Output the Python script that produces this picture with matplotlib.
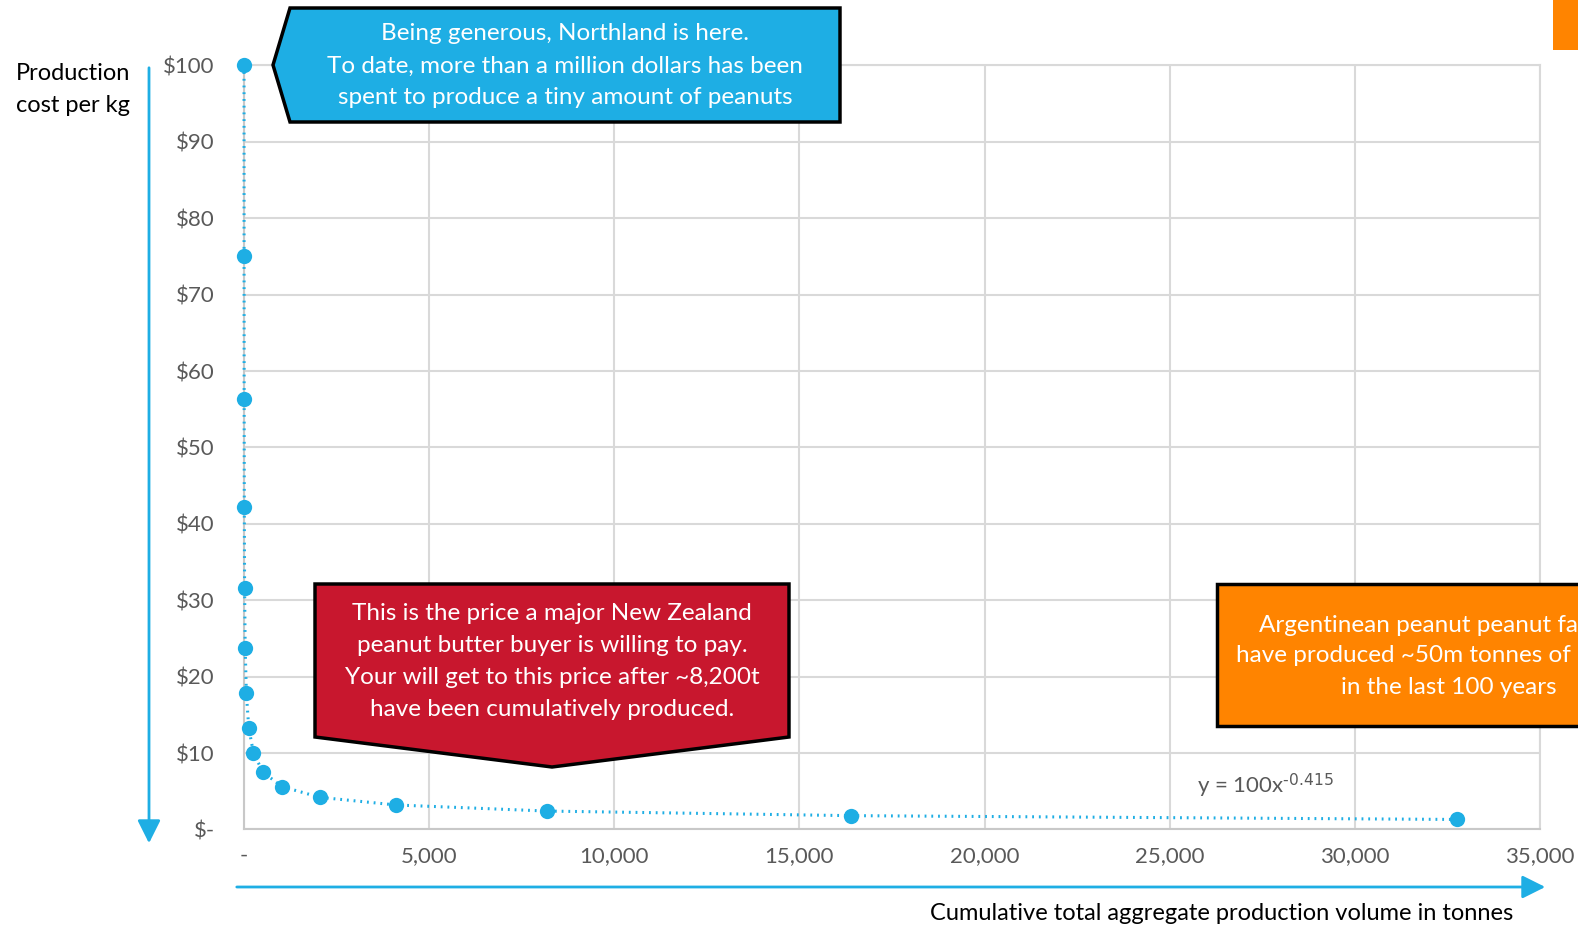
import matplotlib
import matplotlib.pyplot as plt
import matplotlib.ticker as mticker
from matplotlib.patches import Polygon, Rectangle, FancyArrowPatch

matplotlib.use('agg')
plt.rcParams['font.family'] = ['Lato', 'DejaVu Sans']
plt.rcParams['mathtext.default'] = 'regular'

# cumulative production (tonnes) and cost per kg
volume = [1, 2, 4, 8, 16, 32, 64, 128, 256, 512, 1024, 2048, 4096, 8192, 16384, 32768]
cost = [100, 75, 56.3, 42.2, 31.6, 23.7, 17.8, 13.3, 10.0, 7.5, 5.6, 4.2, 3.2, 2.4, 1.8, 1.3]
x_ticks = [0, 5000, 10000, 15000, 20000, 25000, 30000, 35000]
y_ticks = [0, 10, 20, 30, 40, 50, 60, 70, 80, 90, 100]

BLUE = '#1eaee4'
RED = '#c8172e'
ORANGE = '#ff8400'
GRID = '#d9d9d9'
TICK = '#595959'

W, H = 1578, 926
fig = plt.figure(figsize=(W / 100, H / 100), dpi=100)
ax = fig.add_axes([244 / W, 1 - 829.4 / H, (1540 - 244) / W, (829.4 - 65.4) / H])

ax.plot(volume, cost, color=BLUE, linestyle=(0, (0.6, 1.6)), lw=2.2,
        marker='o', markersize=11, markeredgewidth=0, zorder=3, clip_on=False)

ax.set_xlim(0, 35000)
ax.set_ylim(0, 100)
ax.set_xticks(x_ticks)
ax.set_yticks(y_ticks)
ax.xaxis.set_major_formatter(mticker.FuncFormatter(lambda v, p: '-' if v == 0 else f'{v:,.0f}'))
ax.yaxis.set_major_formatter(mticker.FuncFormatter(lambda v, p: '$-' if v == 0 else f'${v:.0f}'))
ax.tick_params(length=0, labelsize=16, labelcolor=TICK)
ax.tick_params(axis='y', pad=21)
ax.tick_params(axis='x', pad=12)
ax.grid(color=GRID, lw=1.5)
ax.set_axisbelow(True)
for s in ax.spines.values():
    s.set_color(GRID)
    s.set_linewidth(1.5)
ax.spines['left'].set_color('#c8c8c8')
ax.spines['bottom'].set_color('#c8c8c8')

# overlay in pixel space for arrows, labels and callouts
ov = fig.add_axes([0, 0, 1, 1], zorder=5)
ov.set_xlim(0, W)
ov.set_ylim(H, 0)
ov.axis('off')
ov.patch.set_alpha(0)

ov.add_patch(FancyArrowPatch((149, 65), (149, 846), arrowstyle='-|>,head_length=10,head_width=5',
                             color=BLUE, lw=2, mutation_scale=1.4))
ov.add_patch(FancyArrowPatch((234, 887), (1548, 887), arrowstyle='-|>,head_length=10,head_width=5',
                             color=BLUE, lw=2, mutation_scale=1.4))

ov.text(130, 73, 'Production', ha='right', va='center', fontsize=17, color='black')
ov.text(130, 106, 'cost per kg', ha='right', va='center', fontsize=17, color='black')
ov.text(1222, 913, 'Cumulative total aggregate production volume in tonnes',
        ha='center', va='center', fontsize=17, color='black')

ov.text(1197, 786, r'y = 100x$^{\text{-0.415}}$', ha='left', va='center', fontsize=16, color=TICK)

# blue callout
ov.add_patch(Polygon([(273, 65), (290, 8), (840, 8), (840, 122), (290, 122)],
                     closed=True, fc=BLUE, ec='black', lw=2.5))
for yy, t in zip([34, 66, 98], ['Being generous, Northland is here.',
                                'To date, more than a million dollars has been',
                                'spent to produce a tiny amount of peanuts']):
    ov.text(565, yy, t, ha='center', va='center', fontsize=17.5, color='white')

# red callout
ov.add_patch(Polygon([(315, 584), (789, 584), (789, 737), (552, 767), (315, 737)],
                     closed=True, fc=RED, ec='black', lw=2.5))
for yy, t in zip([613, 645, 677, 709], ['This is the price a major New Zealand',
                                          'peanut butter buyer is willing to pay.',
                                          'Your will get to this price after ~8,200t',
                                          'have been cumulatively produced.']):
    ov.text(552, yy, t, ha='center', va='center', fontsize=17.5, color='white')

# orange callout (runs off the right edge)
ov.add_patch(Rectangle((1217, 584), 400, 142, fc=ORANGE, ec='black', lw=2.5, clip_on=False))
for yy, t in zip([625, 656, 688], ['Argentinean peanut peanut farmers',
                                     'have produced ~50m tonnes of peanuts',
                                     'in the last 100 years']):
    ov.text(1449, yy, t, ha='center', va='center', fontsize=17.5, color='white')

ov.add_patch(Rectangle((1553, 0), 30, 50, fc=ORANGE, ec='none'))

plt.savefig('out.png')
